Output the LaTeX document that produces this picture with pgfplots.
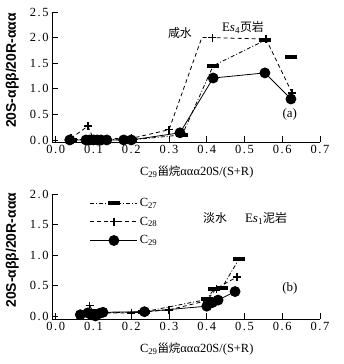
\documentclass[border=0pt]{standalone}
\usepackage{fontspec}
\usepackage{pgfplots}
\pgfplotsset{compat=1.18}
\setmainfont{Liberation Serif}
\newfontfamily\cjk{Noto Sans CJK SC}
\newfontfamily\arialb{Liberation Sans}
\newfontfamily\tickf[LetterSpace=12]{Liberation Serif}

\pgfplotsset{
  panel/.style={
    scale only axis, width=268bp,
    xmin=-0.01, xmax=0.7,
    axis lines*=left, axis line style={-, line width=0.8bp},
    tick align=inside, major tick length=6bp,
    tick style={line width=0.8bp, black},
    xtick={0,0.1,...,0.7},
    /pgf/number format/.cd, fixed, fixed zerofill, precision=1, assume math mode=true,
    /pgfplots/.cd,
    tick label style={font=\tickf\fontsize{12.5}{14}\selectfont},
    xlabel={C\textsubscript{29}{\cjk\fontsize{11.5}{13}\selectfont 甾烷}ααα20S/(S+R)},
    ylabel={20S-αββ/20R-ααα},
    every axis x label/.style={at={(axis description cs:0.54,0)}, anchor=center, yshift=-30bp, font=\fontsize{12.5}{14}\selectfont},
    every axis y label/.style={at={(axis description cs:-0.148,0.55)}, rotate=90, anchor=center, font=\arialb\bfseries\fontsize{14}{16}\selectfont},
    unbounded coords=jump,
    clip=false,
  },
  c27/.style={black, line width=0.8bp, dash pattern=on 4bp off 2bp on 1bp off 2bp,
    mark=-, mark size=6bp, mark options={solid, line width=4bp}},
  c28/.style={black, line width=0.8bp, dash pattern=on 4bp off 3bp,
    mark=+, mark size=4bp, mark options={solid, line width=1.3bp}},
  c29/.style={black, line width=0.8bp, solid, mark=*, mark size=5bp},
}

\begin{document}
\begin{tikzpicture}
\useasboundingbox (0,0) rectangle (344bp,364bp);

% (a) saline water, Es4 shale
\begin{axis}[panel, at={(52bp,222bp)}, anchor=south west,
  height=130bp, ymin=-0.04, ymax=2.5, ytick={0,0.5,...,2.5}]
  \addplot[c29] coordinates {
    (0.037,0) (0.08,0) (0.09,0) (0.1,0) (0.11,0) (0.12,0) (0.135,0)
    (0.18,0) (0.2,0) (0.329,0.14) (0.417,1.21) (0.554,1.31) (0.623,0.8)};
  \addplot[c28, mark indices={1,2,3,4,5,7,8,9}] coordinates {
    (0.04,0.03) (0.085,0.27) (0.1,0.02) (0.2,0.03) (0.3,0.2)
    (0.387,2.0) (0.415,2.0) (0.557,1.97) (0.626,0.92)};
  \addplot[c27] coordinates {
    (0.04,0) (0.09,0.02) (0.12,0.01) (0.2,0) (0.335,0.1)
    (0.417,1.45) (0.555,1.95) (0.59,nan) (0.623,1.62)};
  \node[font=\cjk\fontsize{12}{14}\selectfont] at (axis cs:0.329,2.09) {咸水};
  \node[font=\fontsize{13}{15}\selectfont] at (axis cs:0.496,2.2) {E\textit{s}\textsubscript{4}{\cjk\fontsize{12}{14}\selectfont 页岩}};
  \node[font=\fontsize{13}{15}\selectfont] at (axis cs:0.62,0.49) {(a)};
\end{axis}

% (b) fresh water, Es1 mudstone
\begin{axis}[panel, at={(52bp,45bp)}, anchor=south west,
  height=125bp, ymin=-0.05, ymax=2.0, ytick={0,0.5,...,2.0},
  legend style={at={(axis description cs:0.13,1.0)}, anchor=north west,
    draw=none, fill=none, row sep=5bp, font=\fontsize{12.5}{14}\selectfont},
  legend cell align=left,
  legend image code/.code={
    \draw[mark repeat=2, mark phase=2, #1] plot coordinates {(0bp,0bp) (23.5bp,0bp) (47bp,0bp)};}]
  \addplot[c27] coordinates {
    (0.09,0.08) (0.1,0.04) (0.12,0.05) (0.235,0.07) (0.4,0.27)
    (0.42,0.45) (0.44,0.46) (0.485,0.93)};
  \addlegendentry{C\textsubscript{27}}
  \addplot[c28] coordinates {
    (0.09,0.17) (0.1,0.05) (0.2,0.05) (0.3,0.1) (0.4,0.25)
    (0.425,0.45) (0.48,0.64)};
  \addlegendentry{C\textsubscript{28}}
  \addplot[c29] coordinates {
    (0.065,0.02) (0.085,0.05) (0.095,0.02) (0.105,0) (0.115,0.04)
    (0.125,0.06) (0.235,0.07) (0.4,0.16) (0.415,0.22) (0.43,0.26) (0.475,0.4)};
  \addlegendentry{C\textsubscript{29}}
  \node[font=\cjk\fontsize{12}{14}\selectfont] at (axis cs:0.422,1.6) {淡水};
  \node[font=\fontsize{13}{15}\selectfont] at (axis cs:0.557,1.6) {E\textit{s}\textsubscript{1}{\cjk\fontsize{12}{14}\selectfont 泥岩}};
  \node[font=\fontsize{13}{15}\selectfont] at (axis cs:0.62,0.46) {(b)};
\end{axis}
\end{tikzpicture}
\end{document}
